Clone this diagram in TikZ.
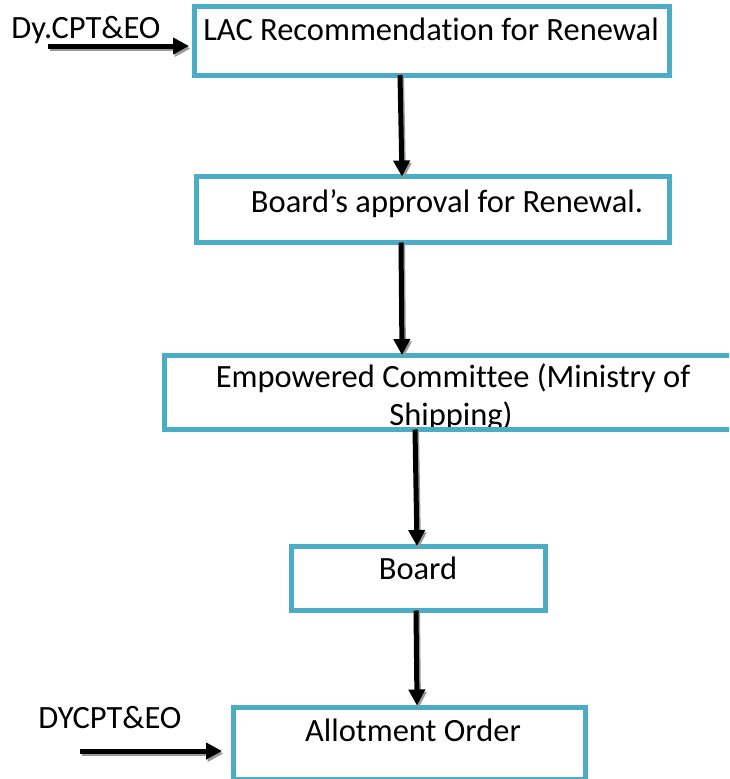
\documentclass[tikz,border=0pt]{standalone}
\usepackage{fontspec}
\setmainfont{Carlito}[Ligatures=NoCommon]
\usetikzlibrary{arrows.meta,calc}
\definecolor{boxc}{HTML}{4BACC6}
\tikzset{
  box/.style={draw=boxc, line width=5pt, rectangle, inner sep=0pt, outer sep=0pt, anchor=north west},
  txt/.style={anchor=base, inner sep=0pt, font=\fontsize{32.5}{38}\selectfont},
  arr/.style={line width=5pt, draw=black, -{Triangle[width=16pt,length=16pt]}},
  arrshadow/.style={line width=5pt, draw=black!40, -{Triangle[width=16pt,length=16pt]}, transform canvas={shift={(1.5,2.5)}}},
}
\newcommand\shadarrow[2]{\draw[arrshadow] #1 -- #2; \draw[arr] #1 -- #2;}
\begin{document}
\begin{tikzpicture}[x=1pt,y=-1pt]
\clip (0,0) rectangle (729,779);
\fill[white] (0,0) rectangle (729,779);
% texts
\node[txt] (t1) at (431,40) {LAC Recommendation for Renewal};
\node[txt] (t2) at (447,212) {Board’s approval for Renewal.};
\node[txt] (t3a) at (453,387) {Empowered Committee (Ministry of};
\node[txt] (t3b) at (451,425) {Shipping)};
\node[txt] (t4) at (418,579) {Board};
\node[txt] (t5) at (413,741) {Allotment Order};
\node[txt] (l1) at (86,38) {Dy.CPT\&EO};
\node[txt] (l2) at (110,728) {DYCPT\&EO};
% boxes
\node[box, minimum width=475pt, minimum height=68.5pt] (b1) at (194.5,6.5) {};
\node[box, minimum width=473pt, minimum height=66pt] (b2) at (196.5,176.5) {};
\node[box, minimum width=575pt, minimum height=74.5pt] (b3) at (164.5,355) {};
\node[box, minimum width=254pt, minimum height=64.5pt] (b4) at (291,546) {};
\node[box, minimum width=352pt, minimum height=71.5pt] (b5) at (233.5,707.5) {};
% connectors
\coordinate (in1) at (48,46);
\coordinate (in2) at (80,751);
\shadarrow{([xshift=-32]b1.south)}{([xshift=-31]b2.north)}
\shadarrow{([xshift=-32]b2.south)}{([xshift=-50]b3.north)}
\shadarrow{([xshift=-37]b3.south)}{([xshift=-1]b4.north)}
\shadarrow{([xshift=-2]b4.south)}{([xshift=7.5,yshift=2]b5.north)}
\shadarrow{(in1)}{($(in1 -| b1.west)+(-5.5,0)$)}
\shadarrow{(in2)}{($(in2 -| b5.west)+(-11.5,0)$)}
\end{tikzpicture}
\end{document}
